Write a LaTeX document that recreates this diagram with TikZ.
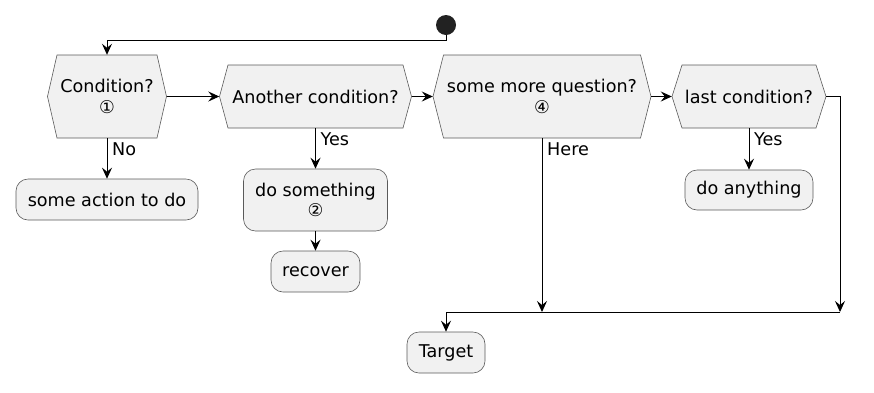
\documentclass[tikz,border=0pt]{standalone}
\usepackage{fontspec}
\setmainfont{DejaVu Sans}
\usetikzlibrary{arrows.meta}
\definecolor{boxfill}{HTML}{F1F1F1}
\definecolor{boxline}{HTML}{5A5A5A}
\definecolor{dotfill}{HTML}{222222}
\newcommand{\fs}{\fontsize{17.6}{20.5}\selectfont}
% \hexa{name}{cx}{cy}{tip half width}{top half width}{half height}{text}
\newcommand{\hexa}[7]{%
  \draw[hexshape] ({#2-#4},#3) -- ({#2-#5},{#3-#6}) -- ({#2+#5},{#3-#6}) -- ({#2+#4},#3)
     -- ({#2+#5},{#3+#6}) -- ({#2-#5},{#3+#6}) -- cycle;
  \node[hextext, minimum width={2*#4}, minimum height={2*#6}] (#1) at (#2,#3) {#7};}
\begin{document}
\begin{tikzpicture}[x=1pt,y=-1pt,
  hexshape/.style={draw=boxline, line width=0.6pt, fill=boxfill},
  hextext/.style={inner sep=0pt, align=center, font=\fs},
  actbox/.style={draw=boxline, line width=0.6pt, fill=boxfill, rounded corners=12pt,
     inner sep=0pt, align=center, font=\fs},
  conn/.style={line width=1pt, -{Stealth[length=11pt,width=10pt,inset=4pt]}},
  plain/.style={line width=1pt},
  lab/.style={font=\fs, inner sep=0pt, anchor=north west}]
\useasboundingbox (0,0) rectangle (874,392);

\node[circle, fill=dotfill, minimum size=20pt, inner sep=0pt] (start) at (446,25) {};

\hexa{c1}{107}{96.5}{59.5}{50}{41.5}{Condition?\\①}
\hexa{c2}{315.5}{96.5}{96}{87.5}{31.5}{Another condition?}
\hexa{c3}{542}{96.5}{109}{98.5}{41.5}{some more question?\\④}
\hexa{c4}{749}{96.5}{77}{67}{31.5}{last condition?}

\node[actbox, minimum width=182pt, minimum height=41pt] (a1) at (107,199.5) {some action to do};
\node[actbox, minimum width=144pt, minimum height=62pt] (a2) at (315.5,200) {do something\\②};
\node[actbox, minimum width=89pt, minimum height=41pt] (a3) at (315.5,271.5) {recover};
\node[actbox, minimum width=128pt, minimum height=40pt] (a4) at (749,190) {do anything};
\node[actbox, minimum width=78pt, minimum height=41pt] (tgt) at (446,352.5) {Target};

\coordinate (mL) at (446,312);
\coordinate (mR) at (840,312);

\draw[conn] (start.south) -- ++(0,5.7) -| (c1.north);
\draw[conn] (c1.east) -- (c2.west);
\draw[conn] (c2.east) -- (c3.west);
\draw[conn] (c3.east) -- (c4.west);

\draw[conn] (c1.south) -- (c1.south |- a1.north);
\path (c1.south) ++(5,4.5) node[lab] (lno) {No};
\draw[conn] (c2.south) -- (c2.south |- a2.north);
\path (c2.south) ++(5,4) node[lab] (lyes1) {Yes};
\draw[conn] (a2.south) -- (a2.south |- a3.north);
\draw[conn] (c3.south) -- (c3.south |- mL);
\path (c3.south) ++(5,4.5) node[lab] (lhere) {Here};
\draw[conn] (c4.south) -- (c4.south |- a4.north);
\path (c4.south) ++(5,4) node[lab] (lyes2) {Yes};
\draw[conn] (c4.east) -| (mR);
\draw[plain] (mL) -- (mR);
\draw[conn] (mL) -- (mL |- tgt.north);
\end{tikzpicture}
\end{document}
